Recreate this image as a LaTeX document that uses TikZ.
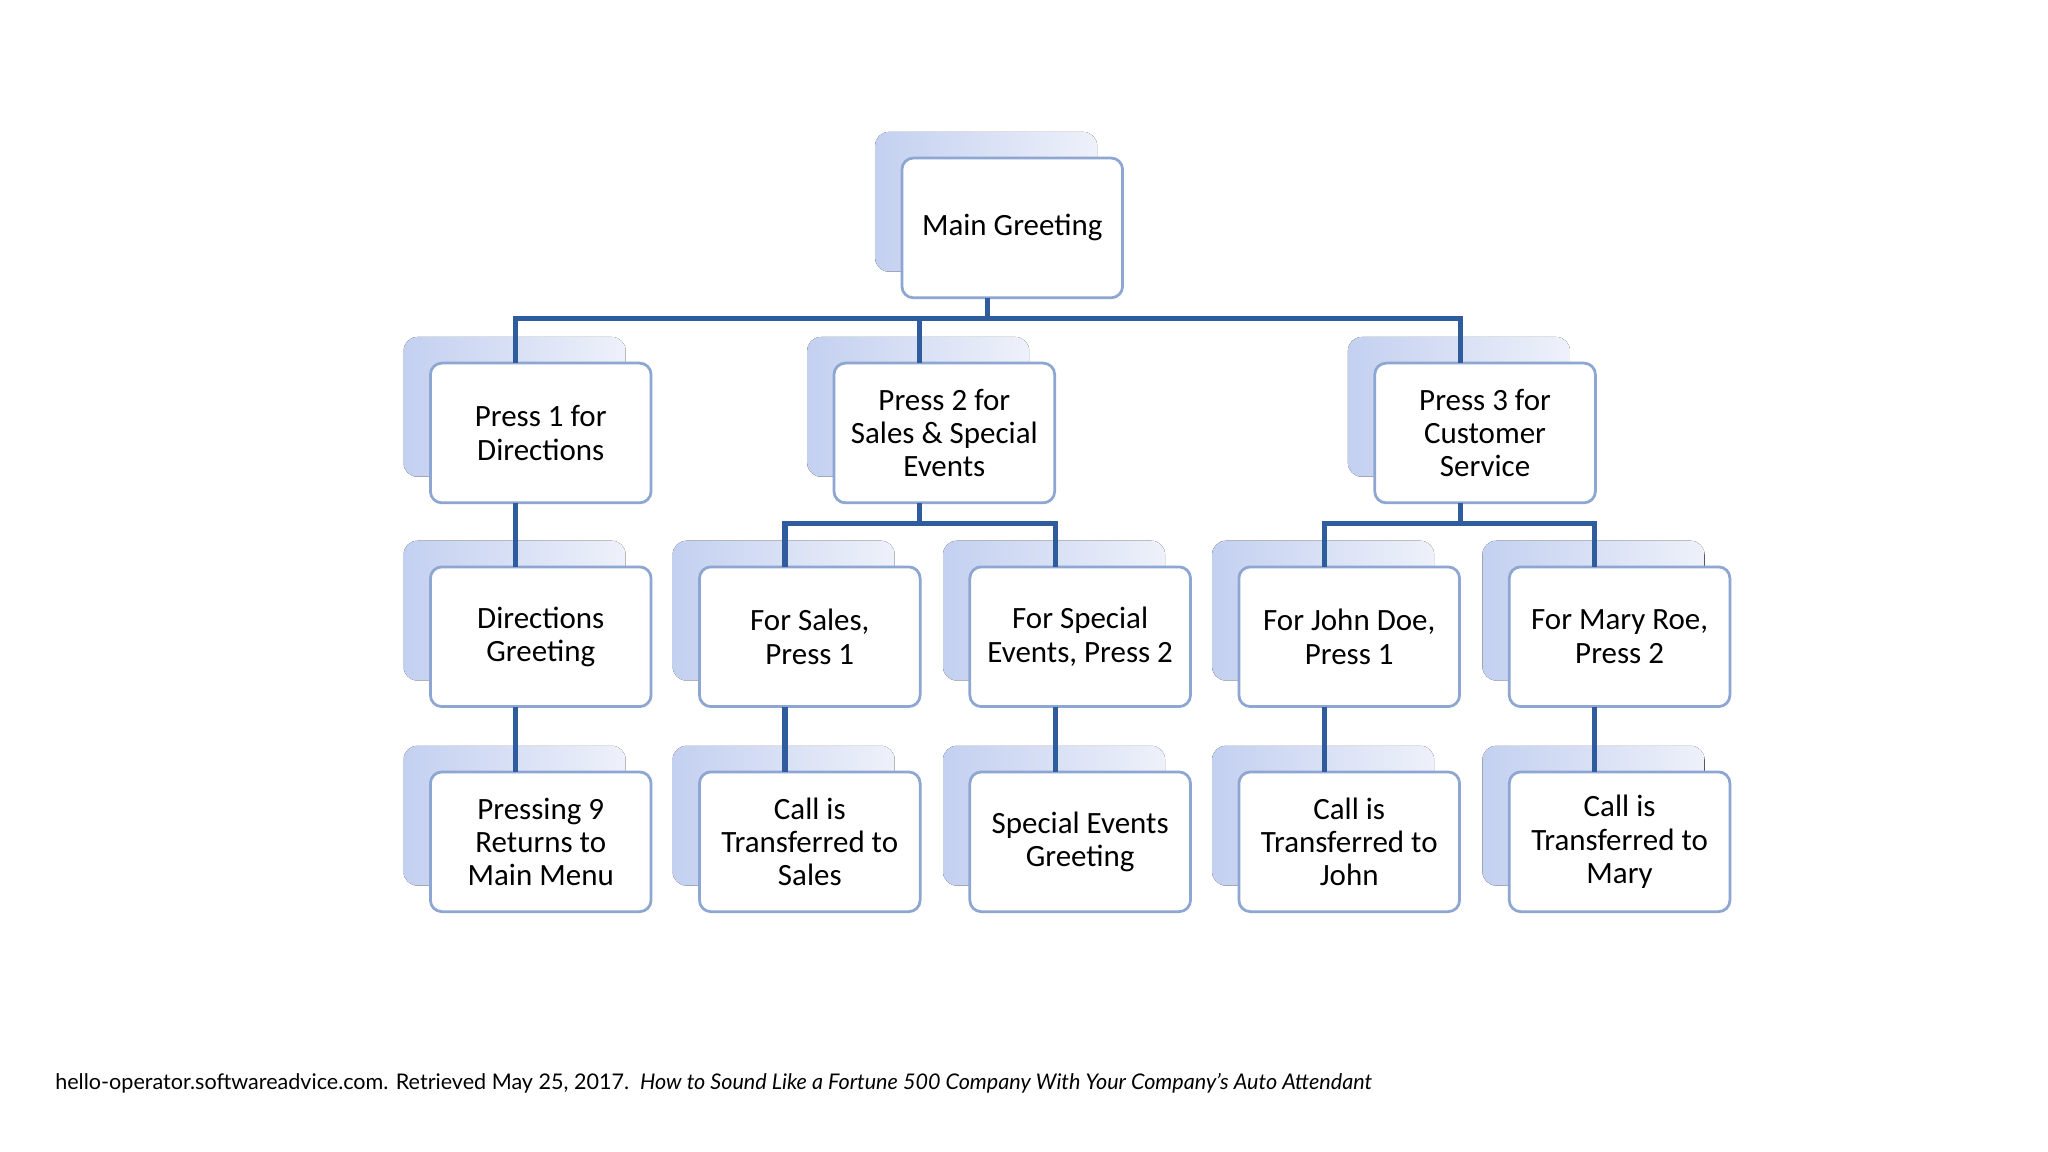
\documentclass[tikz,border=0pt]{standalone}
\usepackage{fontspec}
\setmainfont{Carlito}
\newfontfamily\foot{Lato}
\definecolor{conc}{HTML}{2F5C9C}
\definecolor{brd}{HTML}{8EA6D2}
\definecolor{shd}{HTML}{C3D0F0}
\definecolor{shd2}{HTML}{EEF1FA}
\begin{document}
\begin{tikzpicture}[x=0.02cm,y=-0.02cm,
  back/.style={draw=none,rounded corners=6pt,left color=shd,right color=shd2},
  box/.style={draw=brd,line width=1.2pt,fill=white,rounded corners=5pt,minimum width=3.38cm,minimum height=2.14cm,align=center,font=\fontsize{13.5}{14.5}\selectfont,inner sep=2pt},
  con/.style={draw=conc,line width=2.2pt}]
\useasboundingbox (0,0) rectangle (1568,882);
\fill[white] (0,0) rectangle (1568,882);
\newcommand\bx[4]{%
  \fill[back] (#2-20,#3-20) rectangle (#2+150,#3+87);
  \node[box] (#1) at (#2+85,#3+53.5) {#4};
  \coordinate (#1t) at (#2+66,#3);
  \coordinate (#1b) at (#2+66,#3+107);}
\bx{m}{690}{121}{Main Greeting}
\bx{a}{329}{278}{Press 1 for\\Directions}
\bx{b}{638}{278}{Press 2 for\\Sales \& Special\\Events}
\bx{c}{1052}{278}{Press 3 for\\Customer\\Service}
\bx{a1}{329}{434}{Directions\\Greeting}
\bx{b1}{535}{434}{For Sales,\\Press 1}
\bx{b2}{742}{434}{For Special\\Events, Press 2}
\bx{c1}{948}{434}{For John Doe,\\Press 1}
\bx{c2}{1155}{434}{For Mary Roe,\\Press 2}
\bx{a2}{329}{591}{Pressing 9\\Returns to\\Main Menu}
\bx{b3}{535}{591}{Call is\\Transferred to\\Sales}
\bx{b4}{742}{591}{Special Events\\Greeting}
\bx{c3}{948}{591}{Call is\\Transferred to\\John}
\bx{c4}{1155}{591}{Call is\\Transferred to\\Mary}
\begin{scope}[on background layer/.style={}]
\draw[con] (mb) -- (mb |- 0,244);
\draw[con] (at) |- (ct |- 0,244) -- (ct);
\draw[con] (bt |- 0,244) -- (bt);
\draw[con] (ab) -- (a1t);
\draw[con] (a1b) -- (a2t);
\draw[con] (bb) -- (bb |- 0,401);
\draw[con] (b1t) |- (b2t |- 0,401) -- (b2t);
\draw[con] (b1b) -- (b3t);
\draw[con] (b2b) -- (b4t);
\draw[con] (cb) -- (cb |- 0,401);
\draw[con] (c1t) |- (c2t |- 0,401) -- (c2t);
\draw[con] (c1b) -- (c3t);
\draw[con] (c2b) -- (c4t);
\end{scope}
\node[anchor=base west,inner sep=0pt,font=\foot\fontsize{9.4}{11}\selectfont] (f) at (42,834)
 {hello-operator.softwareadvice.com. Retrieved May 25, 2017.\ \ \textit{How to Sound Like a Fortune 500 Company With Your Company’s Auto Attendant}};
\end{tikzpicture}
\end{document}
